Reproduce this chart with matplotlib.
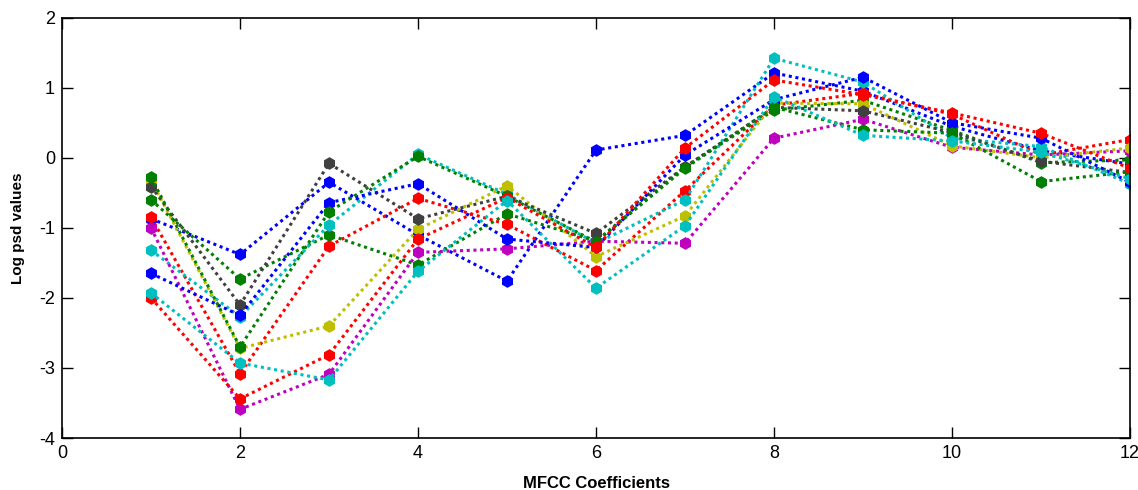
import matplotlib
matplotlib.use("Agg")
import matplotlib.pyplot as plt

plt.rcParams['font.family'] = ['Liberation Sans', 'DejaVu Sans']
plt.rcParams['axes.unicode_minus'] = False

x = [1, 2, 3, 4, 5, 6, 7, 8, 9, 10, 11, 12]

s1_blue = [-0.87, -1.38, -0.35, -1.10, -1.76, 0.11, 0.32, 1.21, 0.95, 0.45, 0.10, -0.09]
s2_green = [-0.60, -1.73, -1.10, -1.53, -0.80, -1.19, -0.13, 0.68, 0.82, 0.39, -0.07, -0.03]
s3_red = [-0.85, -3.08, -1.26, -0.58, -0.95, -1.61, -0.47, 0.75, 0.92, 0.62, 0.04, 0.26]
s4_cyan = [-1.32, -2.27, -0.96, 0.05, -0.52, -1.22, -0.60, 1.42, 1.08, 0.28, 0.16, -0.37]
s5_magenta = [-1.00, -3.59, -3.09, -1.35, -1.30, -1.19, -1.22, 0.28, 0.55, 0.15, 0.04, 0.10]
s6_yellow = [-0.32, -2.72, -2.40, -1.02, -0.40, -1.41, -0.83, 0.78, 0.77, 0.17, 0.00, 0.14]
s7_gray = [-0.41, -2.10, -0.08, -0.87, -0.55, -1.08, -0.13, 0.72, 0.67, 0.36, -0.05, -0.21]
s8_blue = [-1.65, -2.25, -0.64, -0.37, -1.16, -1.28, 0.04, 0.83, 1.15, 0.50, 0.28, -0.35]
s9_green = [-0.28, -2.70, -0.77, 0.02, -0.55, -1.20, -0.15, 0.72, 0.40, 0.35, -0.34, -0.20]
s10_red = [-2.00, -3.44, -2.81, -1.16, -0.57, -1.28, 0.14, 1.11, 0.90, 0.64, 0.35, -0.15]
s11_cyan = [-1.93, -2.93, -3.17, -1.62, -0.61, -1.86, -0.97, 0.87, 0.32, 0.24, 0.08, -0.30]

series = [s1_blue, s2_green, s3_red, s4_cyan, s5_magenta, s6_yellow, s7_gray,
          s8_blue, s9_green, s10_red, s11_cyan]
colors = ['#0000ff', '#008000', '#ff0000', '#00bfbf', '#bf00bf', '#bfbf00', '#404040',
          '#0000ff', '#008000', '#ff0000', '#00bfbf']

xticks = [0, 2, 4, 6, 8, 10, 12]
yticks = [-4, -3, -2, -1, 0, 1, 2]

fig = plt.figure(figsize=(11.38, 4.9), dpi=100)
ax = fig.add_axes([0.0545, 0.106, 0.9385, 0.858])

for ys, c in zip(series, colors):
    ax.plot(x, ys, linestyle=(0, (1, 1.2)), linewidth=2.2, color=c,
            marker='h', markersize=8, markerfacecolor=c, markeredgecolor=c)

ax.set_xlim(0, 12)
ax.set_ylim(-4, 2)
ax.set_xticks(xticks)
ax.set_yticks(yticks)
ax.tick_params(direction='in', length=8, width=1, top=True, right=True,
               labelsize=13, pad=5)
for sp in ax.spines.values():
    sp.set_linewidth(1.2)
ax.set_xlabel('MFCC Coefficients', fontsize=12, fontweight='bold', labelpad=10)
ax.set_ylabel('Log psd values', fontsize=11, fontweight='bold', labelpad=10)

fig.savefig('out.png', dpi=100)
